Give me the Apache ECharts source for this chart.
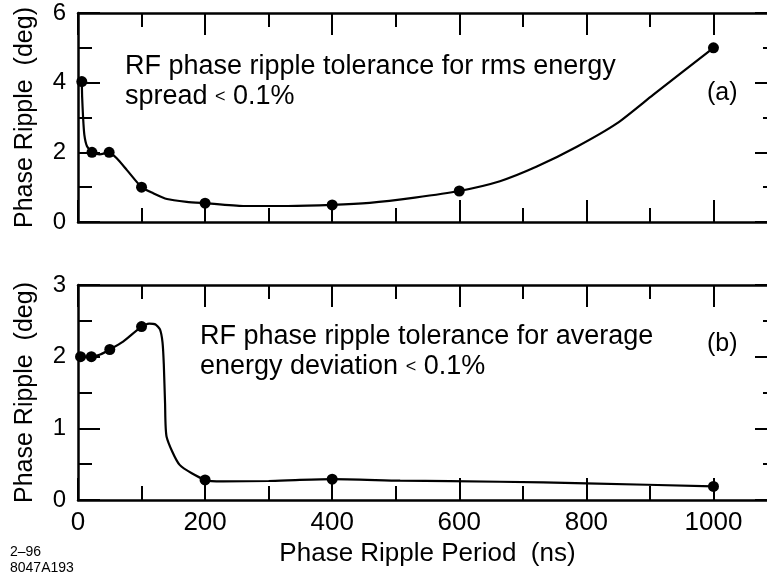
<!DOCTYPE html>
<html>
<head>
<meta charset="utf-8">
<script src="https://cdn.jsdelivr.net/npm/echarts@6/dist/echarts.min.js"></script>
<style>
  html, body { margin: 0; padding: 0; background: #fff; overflow: hidden; }
  #chart { width: 790px; height: 578px; }
</style>
</head>
<body>
<div id="chart"></div>
<script>
// (a) RF phase ripple tolerance for rms energy spread < 0.1%
const rmsPoints = [[6, 4.03], [22, 2.0], [49, 2.0], [100, 1.0], [200, 0.54], [400, 0.49], [600, 0.89], [1000, 5.0]];
const rmsCurve = [
  [6, 4.03], [6.5, 3.6], [8, 3.0], [10, 2.5], [14, 2.18], [22, 2.0], [34, 1.94], [49, 2.0],
  [61, 1.83], [77, 1.49], [100, 1.0], [118, 0.83], [140, 0.66], [171, 0.58], [200, 0.54],
  [260, 0.46], [330, 0.46], [400, 0.49], [459, 0.55], [530, 0.7], [600, 0.89], [664, 1.17],
  [722, 1.59], [785, 2.16], [848, 2.83], [905, 3.65], [1000, 5.0]
];

// (b) RF phase ripple tolerance for average energy deviation < 0.1%
const avgPoints = [[4, 2.0], [21, 2.0], [50, 2.1], [100, 2.42], [200, 0.28], [400, 0.29], [1000, 0.19]];
const avgCurve = [
  [4, 2.0], [21, 2.0], [35, 2.03], [50, 2.1], [71, 2.21], [100, 2.42], [112, 2.46], [122, 2.45],
  [129, 2.38], [133, 2.2], [135, 1.9], [137, 1.35], [139.5, 0.88], [160, 0.49], [200, 0.28],
  [228, 0.26], [300, 0.265], [349, 0.28], [400, 0.29], [507, 0.27], [664, 0.255], [800, 0.233], [1000, 0.19]
];

const xTicks = [0, 200, 400, 600, 800, 1000];
const panelLabels = ['(a)', '(b)'];
const notes = [
  ['RF phase ripple tolerance for rms energy', 'spread {lt|<} 0.1%'],
  ['RF phase ripple tolerance for average', 'energy deviation {lt|<} 0.1%']
];
const stamp = ['2\u201396', '8047A193'];

const FONT = '"Liberation Sans", Arial, Helvetica, sans-serif';
const INK = '#000';

// Long ticks on the major axis, short ticks on an overlaid minor axis.
function xAxis(grid, pos, major, labels) {
  return {
    type: 'value', gridIndex: grid, position: pos, min: 0, max: 1100,
    interval: major ? 200 : 100,
    axisLine: { show: major, onZero: false, lineStyle: { color: INK, width: 2.5 } },
    axisTick: { show: true, inside: true, length: major ? 22 : 14, lineStyle: { color: INK, width: 2 } },
    axisLabel: {
      show: !!labels, showMaxLabel: false, margin: 10, color: INK, fontSize: 26, fontFamily: FONT,
      formatter: v => (xTicks.indexOf(v) >= 0 ? String(v) : '')
    },
    splitLine: { show: false },
    name: labels ? 'Phase Ripple Period  (ns)' : '',
    nameLocation: 'middle', nameGap: 41,
    nameTextStyle: { color: INK, fontSize: 26, fontFamily: FONT }
  };
}

function yAxis(grid, pos, max, step, major, labels) {
  return {
    type: 'value', gridIndex: grid, position: pos, min: 0, max: max, interval: major ? step : step / 2,
    axisLine: { show: major, onZero: false, lineStyle: { color: INK, width: 2.5 } },
    axisTick: { show: true, inside: true, length: major ? 22 : 14, lineStyle: { color: INK, width: 2 } },
    axisLabel: { show: !!labels, margin: 12, color: INK, fontSize: 24, fontFamily: FONT },
    splitLine: { show: false },
    name: labels ? 'Phase Ripple  (deg)' : '',
    nameLocation: 'middle', nameGap: 40,
    nameTextStyle: { color: INK, fontSize: 25, fontFamily: FONT }
  };
}

const lineStyle = { color: INK, width: 2.2 };
const dotStyle = { color: INK, opacity: 1 };
const noteStyle = { fill: INK, fontSize: 27, lineHeight: 30, fontFamily: FONT,
  rich: { lt: { fontSize: 18, fontFamily: FONT, fill: INK } } };

const option = {
  animation: false,
  backgroundColor: '#fff',
  grid: [
    { left: 78, top: 13, width: 699, height: 209, outerBoundsMode: 'none' },
    { left: 78, top: 285, width: 699, height: 215, outerBoundsMode: 'none' }
  ],
  xAxis: [
    xAxis(0, 'bottom', true, false), xAxis(0, 'bottom', false, false),
    xAxis(0, 'top', true, false), xAxis(0, 'top', false, false),
    xAxis(1, 'bottom', true, true), xAxis(1, 'bottom', false, false),
    xAxis(1, 'top', true, false), xAxis(1, 'top', false, false)
  ],
  yAxis: [
    yAxis(0, 'left', 6, 2, true, true), yAxis(0, 'left', 6, 2, false, false),
    yAxis(0, 'right', 6, 2, true, false), yAxis(0, 'right', 6, 2, false, false),
    yAxis(1, 'left', 3, 1, true, true), yAxis(1, 'left', 3, 1, false, false),
    yAxis(1, 'right', 3, 1, true, false), yAxis(1, 'right', 3, 1, false, false)
  ],
  series: [
    { type: 'line', xAxisIndex: 0, yAxisIndex: 0, data: rmsCurve, smooth: 0.2, showSymbol: false, lineStyle: lineStyle, z: 3 },
    { type: 'scatter', xAxisIndex: 0, yAxisIndex: 0, data: rmsPoints, symbol: 'circle', symbolSize: 11, itemStyle: dotStyle, z: 4 },
    { type: 'line', xAxisIndex: 4, yAxisIndex: 4, data: avgCurve, smooth: 0.2, showSymbol: false, lineStyle: lineStyle, z: 3 },
    { type: 'scatter', xAxisIndex: 4, yAxisIndex: 4, data: avgPoints, symbol: 'circle', symbolSize: 11, itemStyle: dotStyle, z: 4 }
  ],
  graphic: [
    { type: 'text', left: 125, top: 52, style: Object.assign({ text: notes[0].join('\n') }, noteStyle) },
    { type: 'text', left: 200, top: 322, style: Object.assign({ text: notes[1].join('\n') }, noteStyle) },
    { type: 'text', left: 707, top: 81, style: { text: panelLabels[0], fill: INK, fontSize: 25, fontFamily: FONT } },
    { type: 'text', left: 707, top: 332, style: { text: panelLabels[1], fill: INK, fontSize: 25, fontFamily: FONT } },
    { type: 'text', left: 10, top: 545, style: { text: stamp[0], fill: INK, fontSize: 14, fontFamily: FONT } },
    { type: 'text', left: 10, top: 561, style: { text: stamp[1], fill: INK, fontSize: 14, fontFamily: FONT } }
  ]
};

echarts.init(document.getElementById('chart'), null, { renderer: 'canvas' }).setOption(option);
</script>
</body>
</html>
